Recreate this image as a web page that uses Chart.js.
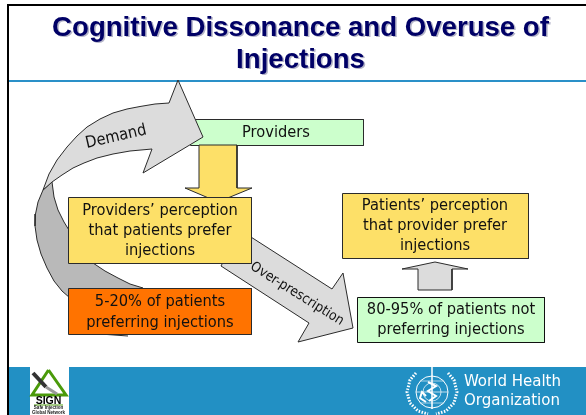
<!DOCTYPE html>
<html><head><meta charset="utf-8">
<style>html,body{margin:0;padding:0;background:#fff}canvas{display:block}</style>
<script src="https://cdn.jsdelivr.net/npm/chart.js@4"></script></head>
<body><canvas id="c" width="586" height="415"></canvas>
<script>
const titleLines = ["Cognitive Dissonance and Overuse of", "Injections"];
const preferring = [5, 20];
const notPreferring = [80, 95];
const box1 = ["Providers"];
const box2 = ["Providers\u2019 perception", "that patients prefer", "injections"];
const box3 = [`${preferring[0]}-${preferring[1]}% of patients`, "preferring injections"];
const box4 = ["Patients\u2019 perception", "that provider prefer", "injections"];
const box5 = [`${notPreferring[0]}-${notPreferring[1]}% of patients not`, "preferring injections"];
const arrowLabels = ["Demand", "Over-prescription"];
const whoName = ["World Health", "Organization"];
const signName = ["SIGN", "Safe Injection", "Global Network"];

const P = a => a.map(p => ({x:p[0], y:p[1]}));
const rect = (x0,y0,x1,y1) => [[x0,y0],[x1,y0],[x1,y1],[x0,y1],[x0,y0]];
const shape = (pts, bg, bc, w=1) => ({data:P(pts.concat([pts[0]])), showLine:true, fill:'shape', backgroundColor:bg, borderColor:bc, borderWidth:w, pointRadius:0, tension:0, clip:false});
const line = (pts, c, w=1, extra={}) => ({data:P(pts), showLine:true, fill:false, borderColor:c, borderWidth:w, pointRadius:0, tension:0, clip:false, ...extra});

const EDGE='#2b2b2b', GREY='#dcdcdc', YEL='#fde068', GRN='#ccffcc', BLUE='#2290c4';
const layers = [
  shape(rect(8,367,586,415), BLUE, BLUE, 0),
  shape(rect(30,367,69,415), '#ffffff', '#ffffff', 0),
  line([[8,5],[586,5]], '#000', 2),
  line([[8,4],[8,415]], '#000', 2),
  line([[9,81],[586,81]], '#2a90c8', 2),
  shape(rect(190.5,119.5,363.5,145.5), GRN, EDGE),
  line([[100,334],[128,336]], EDGE, 1),
  shape([[43,190],[38,202],[35.5,214],[35,226],[37,240],[41,254],[47,268],[54,281],[62,291],[70,298],[100,310],[143,288],[130,284],[118,278],[105,271],[93,263],[82,250],[72,235],[64,222],[58,210],[54,197],[52,182]], '#b9b9b9', EDGE),
  shape([[43,190],[49,174],[57,160],[67,147],[77,136],[87,127],[100,119],[113,113],[127,109],[140,106.5],[155,104],[169,103],[178,80],[203,137],[143,173],[152,149],[130,151],[113,154],[97,158],[84,163],[73,168],[62,175],[52,182]], GREY, EDGE),
  shape([[199,145],[237,145],[237,188],[252,188],[218,202],[185,188],[199,188]], YEL, EDGE),
  shape([[240,230],[332,289],[343,273],[353,328],[298,342],[309,323],[221,266]], GREY, EDGE),
  shape([[418,290],[418,269],[402,269],[435,262],[468,269],[452,269],[452,290]], GREY, EDGE),
  shape(rect(68.5,197.5,251.5,263.5), YEL, EDGE),
  shape(rect(68.5,288.5,251.5,334.5), '#ff7300', EDGE),
  shape(rect(342.5,193.5,528.5,258.5), YEL, EDGE),
  shape(rect(357.5,297.5,544.5,342.5), GRN, '#111'),
  shape([[48.5,370],[66,395],[32,395]], '#ffffff', '#4a9a0a', 3),
  line([[33,373],[46,387]], '#333', 4),
  line([[46,387],[57,394]], '#999', 3),
  line([[34,405],[63,405]], '#4a9a0a', 1),
  {data:[{x:432,y:392}], showLine:false, pointStyle:'circle', pointRadius:16, pointBackgroundColor:'rgba(0,0,0,0)', pointBorderColor:'#fff', pointBorderWidth:1, clip:false},
  {data:[{x:432,y:392}], showLine:false, pointStyle:'circle', pointRadius:9, pointBackgroundColor:'rgba(0,0,0,0)', pointBorderColor:'rgba(255,255,255,.7)', pointBorderWidth:1, clip:false},
  line([[416,392],[448,392]], 'rgba(255,255,255,.7)', 1),
  line([[420,381],[444,381]], 'rgba(255,255,255,.6)', 1),
  line([[420,403],[444,403]], 'rgba(255,255,255,.6)', 1),
  line([[432,367],[432,409]], '#fff', 1.5),
  line([[428,382],[436,386],[428,391],[436,396],[429,401]], '#fff', 2),
  line([[426,396],[422,392],[420,398],[426,402]], '#fff', 2),
  line([[416,373],[410,380],[407,392],[410,403],[418,411],[428,414]], '#fff', 3, {borderDash:[1.5,1.5]}),
  line([[448,373],[454,380],[457,392],[454,403],[446,411],[436,414]], '#fff', 3, {borderDash:[1.5,1.5]})
];
layers.forEach((d,i)=>{ d.order = layers.length - i; });

const textPlugin = {
  id:'slideText',
  beforeDraw(ch){ const c=ch.ctx; c.save(); c.fillStyle='#fff'; c.fillRect(0,0,ch.width,ch.height); c.restore(); },
  afterDatasetsDraw(ch){
    const c = ch.ctx, X = v=>ch.scales.x.getPixelForValue(v), Y = v=>ch.scales.y.getPixelForValue(v);
    const put = (s,x,y,font,col,rot=0,align='center')=>{
      c.save(); c.translate(X(x),Y(y)); c.rotate(rot*Math.PI/180);
      c.font=font; c.fillStyle=col; c.textAlign=align; c.textBaseline='middle'; c.fillText(s,0,0); c.restore();
    };
    const TF = '"DejaVu Sans Condensed","DejaVu Sans",sans-serif';
    const body = `16.3px ${TF}`, INK='#111';
    const titleF = 'bold 27.6px "Liberation Sans",Arial,sans-serif';
    titleLines.forEach((s,i)=>{ const y=[28,60][i];
      put(s,302,y+1.5,titleF,'#b4b4c8');
      put(s,300.5,y,titleF,'#000066');
    });
    put(box1[0],276,133,body,INK);
    box2.forEach((s,i)=>put(s,160,[211,231,251][i],body,INK));
    box3.forEach((s,i)=>put(s,160,[302,323][i],body,INK));
    box4.forEach((s,i)=>put(s,435,[206,226,246][i],body,INK));
    box5.forEach((s,i)=>put(s,451,[310,330][i],body,INK));
    put(arrowLabels[0],116,137,body,INK,-13);
    put(arrowLabels[1],297,294,'13.8px '+TF,INK,32);
    const wf = `16.7px ${TF}`;
    whoName.forEach((s,i)=>put(s,464,[382,401][i],wf,'#fff',0,'left'));
    put(signName[0],48.5,401,'bold 10.5px "Liberation Sans",Arial,sans-serif','#000');
    put(signName[1],48.5,408,'bold 4.5px "Liberation Sans",Arial,sans-serif','#222');
    put(signName[2],48.5,413,'bold 4.5px "Liberation Sans",Arial,sans-serif','#222');
  }
};

new Chart(document.getElementById('c'), {
  type:'scatter',
  data:{datasets:layers},
  options:{
    responsive:false, animation:false, events:[],
    layout:{padding:0, autoPadding:false},
    plugins:{legend:{display:false}, tooltip:{enabled:false}, title:{display:false}, filler:{propagate:false}},
    scales:{
      x:{type:'linear', min:0, max:586, display:false},
      y:{type:'linear', min:0, max:415, reverse:true, display:false}
    }
  },
  plugins:[textPlugin]
});
</script></body></html>
